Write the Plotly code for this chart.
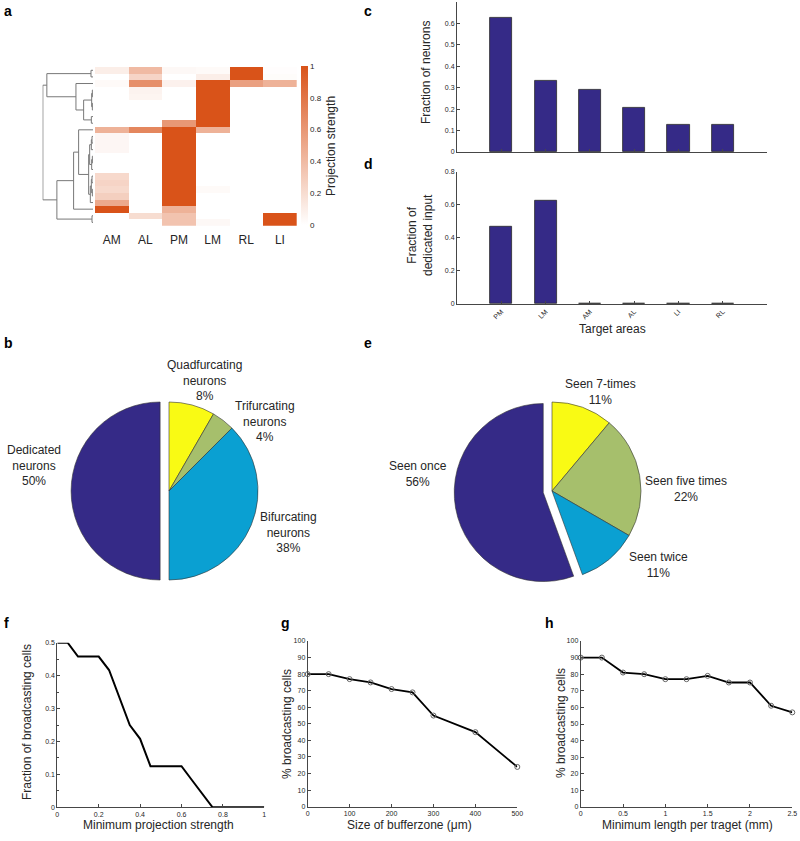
import plotly.graph_objects as go

W, H = 800, 841
FONT = "Arial, Liberation Sans, sans-serif"
TXT = "#262626"


def X(px):
    return px / W


def Y(py):
    return 1 - py / H


# ---------------- data ----------------
heat_areas = ["AM", "AL", "PM", "LM", "RL", "LI"]
strength = [
    [0.10, 0.40, 0.04, 0.03, 1.00, 0.01],
    [0.00, 0.25, 0.00, 0.10, 1.00, 0.02],
    [0.03, 0.65, 0.08, 1.00, 0.55, 0.45],
    [0.00, 0.07, 0.00, 1.00, 0.00, 0.00],
    [0.00, 0.06, 0.00, 1.00, 0.00, 0.00],
    [0.00, 0.00, 0.00, 1.00, 0.00, 0.00],
    [0.00, 0.00, 0.00, 1.00, 0.00, 0.00],
    [0.00, 0.00, 0.00, 1.00, 0.00, 0.00],
    [0.00, 0.00, 0.60, 1.00, 0.00, 0.00],
    [0.45, 0.70, 1.00, 0.45, 0.00, 0.00],
    [0.05, 0.00, 1.00, 0.00, 0.00, 0.00],
    [0.05, 0.00, 1.00, 0.00, 0.00, 0.00],
    [0.05, 0.00, 1.00, 0.00, 0.00, 0.00],
    [0.00, 0.00, 1.00, 0.00, 0.00, 0.00],
    [0.00, 0.00, 1.00, 0.00, 0.00, 0.00],
    [0.00, 0.00, 1.00, 0.00, 0.00, 0.00],
    [0.22, 0.00, 1.00, 0.00, 0.00, 0.00],
    [0.25, 0.00, 1.00, 0.00, 0.00, 0.00],
    [0.22, 0.00, 1.00, 0.03, 0.00, 0.00],
    [0.28, 0.00, 1.00, 0.00, 0.00, 0.00],
    [0.50, 0.00, 1.00, 0.00, 0.00, 0.00],
    [1.00, 0.00, 0.45, 0.00, 0.00, 0.00],
    [0.00, 0.20, 0.35, 0.00, 0.00, 1.00],
    [0.00, 0.00, 0.35, 0.04, 0.00, 1.00],
]
# dendrogram linkage: (left node, right node, merge height); nodes >= 24 are earlier merges
linkage = [
    (0, 1, 6), (3, 4, 2), (5, 6, 2), (25, 26, 4), (7, 8, 5), (27, 28, 28),
    (2, 29, 51), (24, 30, 138), (10, 11, 3), (32, 12, 5), (13, 14, 2),
    (34, 15, 4), (16, 17, 3), (18, 19, 2), (36, 37, 5), (38, 20, 8),
    (33, 35, 10), (40, 39, 13), (9, 41, 43), (42, 21, 58), (22, 23, 3),
    (43, 44, 108), (31, 45, 150),
]

bar_areas = ["PM", "LM", "AM", "AL", "LI", "RL"]
frac_neurons = [0.625, 0.333, 0.292, 0.208, 0.125, 0.125]
frac_dedicated = [0.465, 0.625, 0.0, 0.0, 0.0, 0.0]

b_labels = ["Quadfurcating<br>neurons", "Trifurcating<br>neurons",
            "Bifurcating<br>neurons", "Dedicated<br>neurons"]
b_counts = [2, 1, 9, 12]
e_labels = ["Seen 7-times", "Seen five times", "Seen twice", "Seen once"]
e_counts = [1, 2, 1, 5]

f_x = [0, 0.05, 0.1, 0.15, 0.2, 0.25, 0.3, 0.35, 0.4, 0.45, 0.5, 0.55, 0.6,
       0.65, 0.7, 0.75, 0.8, 0.85, 0.9, 0.95, 1.0]
f_y = [0.5, 0.5, 0.458, 0.458, 0.458, 0.417, 0.333, 0.25, 0.208, 0.125, 0.125,
       0.125, 0.125, 0.083, 0.042, 0, 0, 0, 0, 0, 0]

g_x = [0, 50, 100, 150, 200, 250, 300, 400, 500]
g_y = [80, 80, 77, 75, 71, 69, 55, 45, 24]
g_arrow_x = [100]

h_x = [0, 0.25, 0.5, 0.75, 1.0, 1.25, 1.5, 1.75, 2.0, 2.25, 2.5]
h_y = [90, 90, 81, 80, 77, 77, 79, 75, 75, 61, 57]
h_arrow_x = [1.0]

# ---------------- colours ----------------
NAVY = "rgb(53,42,135)"
CYAN = "rgb(10,160,210)"
OLIVE = "rgb(166,191,108)"
YELLOW = "rgb(249,250,20)"
ORANGE = "rgb(217,83,25)"

fig = go.Figure()

# ---------------- panel a: dendrogram + heatmap ----------------
pos = {i: (float(i), 0.0) for i in range(len(strength))}
dx, dy = [], []
for k, (a, b, hgt) in enumerate(linkage):
    ya, ha = pos[a]
    yb, hb = pos[b]
    dx += [ha, hgt, hgt, hb, None]
    dy += [ya, ya, yb, yb, None]
    pos[len(strength) + k] = ((ya + yb) / 2, hgt)

fig.add_trace(go.Scatter(x=dx, y=dy, mode="lines",
                         line=dict(color="rgb(120,120,120)", width=1),
                         xaxis="x", yaxis="y", showlegend=False, hoverinfo="skip"))

fig.add_trace(go.Heatmap(
    z=strength, x=heat_areas, y=list(range(len(strength))),
    colorscale=[[0, "rgb(255,255,255)"], [1, ORANGE]], zmin=0, zmax=1,
    xaxis="x2", yaxis="y2",
    colorbar=dict(x=X(301), xanchor="left", y=Y(145.5), yanchor="middle",
                  thickness=7, thicknessmode="pixels", len=159, lenmode="pixels",
                  outlinewidth=0, ticks="", tickvals=[0, 0.2, 0.4, 0.6, 0.8, 1],
                  ticktext=["0", "0.2", "0.4", "0.6", "0.8", "1"],
                  tickfont=dict(size=8, color=TXT, family=FONT), ypad=0, xpad=0),
))

# ---------------- panel c / d bars ----------------
fig.add_trace(go.Bar(x=bar_areas, y=frac_neurons, width=0.5, marker=dict(
    color=NAVY, line=dict(color="rgb(40,40,40)", width=0.8)),
    xaxis="x3", yaxis="y3", showlegend=False))
fig.add_trace(go.Bar(x=bar_areas, y=frac_dedicated, width=0.5, marker=dict(
    color=NAVY, line=dict(color="rgb(40,40,40)", width=0.8)),
    xaxis="x4", yaxis="y4", showlegend=False))

# ---------------- pies ----------------
def pie_domain(cx, cy, r, pull):
    side = r * (2 + 2 * pull)
    return dict(x=[X(cx - side / 2), X(cx + side / 2)],
                y=[Y(cy + side / 2), Y(cy - side / 2)])

pie_line = dict(color="rgb(50,50,50)", width=0.6)
fig.add_trace(go.Pie(values=b_counts, labels=b_labels, sort=False, direction="clockwise",
                     rotation=0, textinfo="none", pull=[0, 0, 0, 0.1],
                     marker=dict(colors=[YELLOW, OLIVE, CYAN, NAVY], line=pie_line),
                     domain=pie_domain(169, 491, 89, 0.1), showlegend=False))
fig.add_trace(go.Pie(values=e_counts, labels=e_labels, sort=False, direction="clockwise",
                     rotation=0, textinfo="none", pull=[0, 0, 0, 0.1],
                     marker=dict(colors=[YELLOW, OLIVE, CYAN, NAVY], line=pie_line),
                     domain=pie_domain(552, 491, 89, 0.1), showlegend=False))

# ---------------- panels f, g, h ----------------
fig.add_trace(go.Scatter(x=f_x, y=f_y, mode="lines", line=dict(color="black", width=2),
                         xaxis="x5", yaxis="y5", showlegend=False))
mk = dict(symbol="circle-open", size=5, color="rgb(100,100,100)", line=dict(width=1))
fig.add_trace(go.Scatter(x=g_x, y=g_y, mode="lines+markers", line=dict(color="black", width=1.8),
                         marker=mk, xaxis="x6", yaxis="y6", showlegend=False, cliponaxis=False))
fig.add_trace(go.Scatter(x=h_x, y=h_y, mode="lines+markers", line=dict(color="black", width=1.8),
                         marker=mk, xaxis="x7", yaxis="y7", showlegend=False, cliponaxis=False))
tri = dict(symbol="triangle-down", size=6, color="black")
fig.add_trace(go.Scatter(x=g_arrow_x, y=[101], mode="markers", marker=tri,
                         xaxis="x6", yaxis="y6", showlegend=False, cliponaxis=False))
fig.add_trace(go.Scatter(x=h_arrow_x, y=[101], mode="markers", marker=tri,
                         xaxis="x7", yaxis="y7", showlegend=False, cliponaxis=False))

# ---------------- axes ----------------
tickfont = dict(size=7, color=TXT, family=FONT)
axline = dict(showline=True, linecolor="rgb(70,70,70)", linewidth=1, showgrid=False,
              zeroline=False, ticks="inside", ticklen=3, tickcolor="rgb(70,70,70)",
              tickfont=tickfont, automargin=False)

hy = [Y(225.7), Y(67)]
layout_axes = dict(
    xaxis=dict(domain=[X(42.5), X(93)], range=[151, 0], visible=False, anchor="y",
               automargin=False),
    yaxis=dict(domain=hy, range=[23.5, -0.5], visible=False, anchor="x", automargin=False),
    xaxis2=dict(domain=[X(95), X(296.7)], anchor="y2", showgrid=False, zeroline=False,
                showline=False, ticks="", tickfont=dict(size=12, color=TXT, family=FONT),
                ticklabelstandoff=5, automargin=False),
    yaxis2=dict(domain=hy, range=[23.5, -0.5], visible=False, anchor="x2", automargin=False),
    xaxis3=dict(domain=[X(457), X(767)], anchor="y3", type="category", range=[-1, 6],
                showticklabels=False, **axline),
    yaxis3=dict(domain=[Y(152), Y(1.8)], anchor="x3", range=[0, 0.7],
                tickvals=[0, 0.1, 0.2, 0.3, 0.4, 0.5, 0.6],
                ticktext=["0", "0.1", "0.2", "0.3", "0.4", "0.5", "0.6"], **axline),
    xaxis4=dict(domain=[X(457), X(767)], anchor="y4", type="category", range=[-1, 6],
                tickangle=-45, **axline),
    yaxis4=dict(domain=[Y(304), Y(171.7)], anchor="x4", range=[0, 0.8],
                tickvals=[0, 0.2, 0.4, 0.6, 0.8], ticktext=["0", "0.2", "0.4", "0.6", "0.8"],
                **axline),
    xaxis5=dict(domain=[X(57.3), X(264.3)], anchor="y5", range=[0, 1],
                tickvals=[0, 0.2, 0.4, 0.6, 0.8, 1], ticktext=["0", "0.2", "0.4", "0.6", "0.8", "1"],
                **axline),
    yaxis5=dict(domain=[Y(807.3), Y(642.7)], anchor="x5", range=[0, 0.5],
                tickvals=[0, 0.1, 0.2, 0.3, 0.4, 0.5], ticktext=["0", "0.1", "0.2", "0.3", "0.4", "0.5"],
                minor=dict(ticks="inside", ticklen=2, dtick=0.05, tickcolor="rgb(70,70,70)"),
                **axline),
    xaxis6=dict(domain=[X(307.7), X(517.3)], anchor="y6", range=[0, 500],
                tickvals=[0, 100, 200, 300, 400, 500], **axline),
    yaxis6=dict(domain=[Y(806.7), Y(641)], anchor="x6", range=[0, 100], dtick=10, **axline),
    xaxis7=dict(domain=[X(580.7), X(792.3)], anchor="y7", range=[0, 2.5],
                tickvals=[0, 0.5, 1, 1.5, 2, 2.5], ticktext=["0", "0.5", "1", "1.5", "2", "2.5"],
                **axline),
    yaxis7=dict(domain=[Y(807), Y(641)], anchor="x7", range=[0, 100], dtick=10, **axline),
)

# ---------------- annotations ----------------
ann = []


def A(text, px, py, size=12, angle=0, bold=False, xanchor="center", yanchor="middle"):
    ann.append(dict(text=f"<b>{text}</b>" if bold else text, x=X(px), y=Y(py),
                    xref="paper", yref="paper", showarrow=False, textangle=angle,
                    xanchor=xanchor, yanchor=yanchor,
                    font=dict(size=size, color="black" if bold else TXT, family=FONT)))


for letter, px, py in [("a", 2, 11), ("b", 2, 343), ("c", 362, 11), ("d", 362, 164),
                       ("e", 362, 343), ("f", 2, 623), ("g", 279, 623), ("h", 543, 623)]:
    A(letter, px, py, size=14, bold=True, xanchor="left")

A("Projection strength", 331, 146, size=12, angle=-90)
A("Fraction of neurons", 426, 73, size=12, angle=-90)
A("Fraction of<br>dedicated input", 420, 235, size=12, angle=-90)
A("Target areas", 612, 329, size=12)


def pct(counts):
    tot = sum(counts)
    return [f"{round(100 * c / tot)}%" for c in counts]


b_pos = [(205, 380), (265, 421), (288, 532), (34, 466)]
for lab, p, (px, py) in zip(b_labels, pct(b_counts), b_pos):
    A(f"{lab}<br>{p}", px, py, size=12)

e_pos = [(600, 392), (686, 489), (658, 565), (418, 474)]
for lab, p, (px, py) in zip(e_labels, pct(e_counts), e_pos):
    A(f"{lab}<br>{p}", px, py, size=12)

A("Fraction of broadcasting cells", 27, 722, size=12, angle=-90)
A("Minimum projection strength", 158, 825, size=12)
A("% broadcasting cells", 287, 724, size=12, angle=-90)
A("Size of bufferzone (\u03bcm)", 409, 825, size=12)
A("% broadcasting cells", 561, 723, size=12, angle=-90)
A("Minimum length per traget (mm)", 687, 825, size=12)

fig.update_layout(
    template="none",
    width=W, height=H, margin=dict(l=0, r=0, t=0, b=0, autoexpand=False),
    paper_bgcolor="white", plot_bgcolor="white",
    font=dict(family=FONT, color=TXT), bargap=0,
    annotations=ann, **layout_axes,
)

fig.write_html("out.html", config=dict(displayModeBar=False),
               post_script="document.body.style.margin='0';document.body.style.overflow='hidden';")
